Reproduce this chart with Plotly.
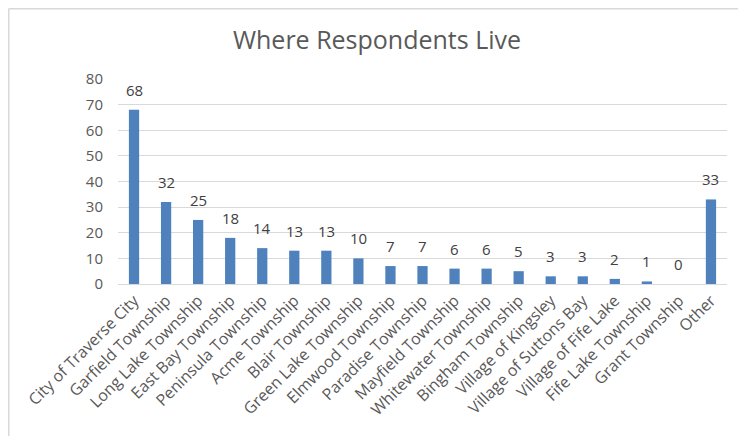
import plotly.graph_objects as go

categories = ["City of Traverse City", "Garfield Township", "Long Lake Township", "East Bay Township",
              "Peninsula Township", "Acme Township", "Blair Township", "Green Lake Township",
              "Elmwood Township", "Paradise Township", "Mayfield Township", "Whitewater Township",
              "Bingham Township", "Village of Kingsley", "Village of Suttons Bay", "Village of Fife Lake",
              "Fife Lake Township", "Grant Township", "Other"]
values = [68, 32, 25, 18, 14, 13, 13, 10, 7, 7, 6, 6, 5, 3, 3, 2, 1, 0, 33]
y_ticks = [0, 10, 20, 30, 40, 50, 60, 70, 80]

# page body has an 8px offset; figure sized to fit the window
W, H = 738, 428
L, R, T, B = 110, 19, 71, 152
PW, PH = W - L - R, H - T - B

fig = go.Figure(go.Bar(
    x=categories, y=values,
    marker=dict(color="#4f81bd", line=dict(width=0)),
    cliponaxis=False,
))

for c, v in zip(categories, values):
    fig.add_annotation(x=c, y=v, text=str(v), showarrow=False, xanchor="center", yanchor="bottom",
                       yshift=8, font=dict(size=15, color="#404040"))

fig.update_layout(
    width=W, height=H,
    margin=dict(l=L, r=R, t=T, b=B, autoexpand=False),
    paper_bgcolor="white", plot_bgcolor="white",
    font=dict(family="Open Sans", color="#595959"),
    title=dict(text="Where Respondents Live", x=0.5, xanchor="center",
               y=1 - 32 / H, yanchor="middle",
               font=dict(size=25, color="#595959")),
    bargap=0.68,
    showlegend=False,
    xaxis=dict(tickangle=-45, tickfont=dict(size=16, color="#595959"), showgrid=False, automargin=False,
               showline=True, linecolor="#d9d9d9", linewidth=1, ticks=""),
    yaxis=dict(range=[0, 80], tickvals=y_ticks, tickfont=dict(size=15, color="#595959"), automargin=False,
               showgrid=True, gridcolor="#d9d9d9", gridwidth=1, zeroline=False, ticks="",
               ticklabelstandoff=14),
    shapes=[
        dict(type="line", xref="paper", yref="paper", x0=-(L - 0.5) / PW, x1=(W - L) / PW,
             y0=1 + (T - 0.75) / PH, y1=1 + (T - 0.75) / PH, line=dict(color="#d9d9d9", width=1.5)),
        dict(type="line", xref="paper", yref="paper", x0=-(L - 0.75) / PW, x1=-(L - 0.75) / PW,
             y0=1 + (T - 0.75) / PH, y1=-B / PH, line=dict(color="#d9d9d9", width=1.5)),
    ],
)

fig.write_html("out.html")
